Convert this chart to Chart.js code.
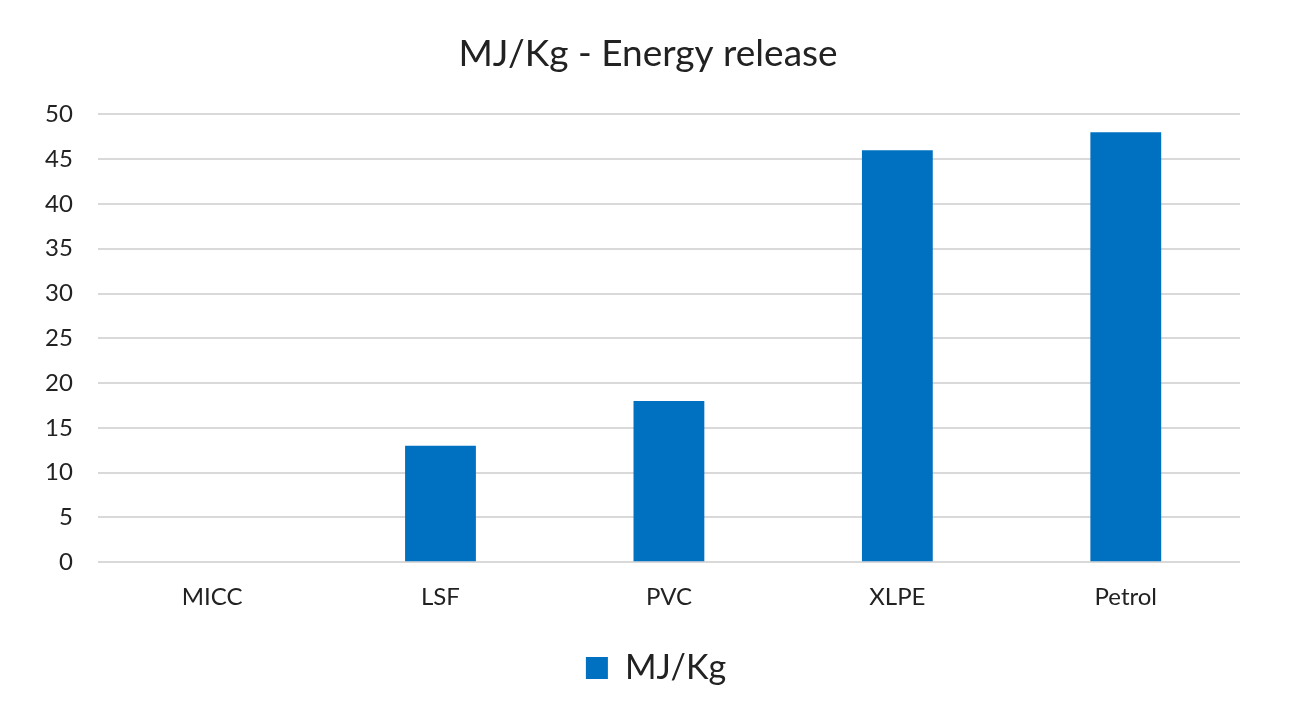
<!DOCTYPE html>
<html lang="en">
<head>
    <meta charset="UTF-8">
    <title>MJ/Kg - Energy release</title>
    <script src="https://cdn.jsdelivr.net/npm/chart.js"></script>
    <style>
        html, body {
            margin: 0;
            padding: 0;
            background: #ffffff;
        }
        #wrap {
            width: 1300px;
            height: 722px;
        }
    </style>
</head>
<body>
    <div id="wrap">
        <canvas id="myChart"></canvas>
    </div>
    <script>
        // data
        var categories = ['MICC', 'LSF', 'PVC', 'XLPE', 'Petrol'];
        var energyValues = [0, 13, 18, 46, 48];
        var seriesName = 'MJ/Kg';
        var yMin = 0, yMax = 50, yStep = 5;

        // title and legend sit centred on the whole picture, not on the padded area
        var centreBoxes = {
            id: 'centreBoxes',
            afterLayout: function (chart) {
                var moves = [[chart.titleBlock, 18], [chart.legend, 26]];
                moves.forEach(function (m) {
                    if (m[0]) {
                        m[0].left += m[1];
                        m[0].right += m[1];
                    }
                });
            }
        };

        var ctx = document.getElementById('myChart').getContext('2d');
        var myChart = new Chart(ctx, {
            type: 'bar',
            data: {
                labels: categories,
                datasets: [{
                    label: seriesName,
                    data: energyValues,
                    backgroundColor: '#0070c0',
                    borderWidth: 0,
                    barPercentage: 0.31,
                    categoryPercentage: 1.0
                }]
            },
            options: {
                responsive: true,
                maintainAspectRatio: false,
                animation: false,
                layout: {
                    padding: { left: 20, right: 60, top: 0, bottom: 27 }
                },
                plugins: {
                    title: {
                        display: true,
                        text: 'MJ/Kg - Energy release',
                        color: '#222222',
                        font: { family: 'Lato', size: 37, weight: 'normal' },
                        padding: { top: 32, bottom: 38 }
                    },
                    legend: {
                        display: true,
                        position: 'bottom',
                        labels: {
                            color: '#222222',
                            boxWidth: 22,
                            boxHeight: 22,
                            padding: 20,
                            font: { family: 'Lato', size: 34 }
                        }
                    },
                    tooltip: { enabled: false }
                },
                scales: {
                    x: {
                        grid: { display: false },
                        border: { display: false },
                        ticks: {
                            color: '#222222',
                            padding: 13,
                            font: { family: 'Lato', size: 24 }
                        },
                        afterFit: function (scale) {
                            scale.height += 6;
                        }
                    },
                    y: {
                        min: yMin,
                        max: yMax,
                        grid: {
                            color: '#d9d9d9',
                            lineWidth: 2,
                            drawTicks: false
                        },
                        border: { display: false },
                        ticks: {
                            stepSize: yStep,
                            color: '#222222',
                            padding: 25,
                            font: { family: 'Lato', size: 24 }
                        }
                    }
                }
            },
            plugins: [centreBoxes]
        });
    </script>
</body>
</html>
